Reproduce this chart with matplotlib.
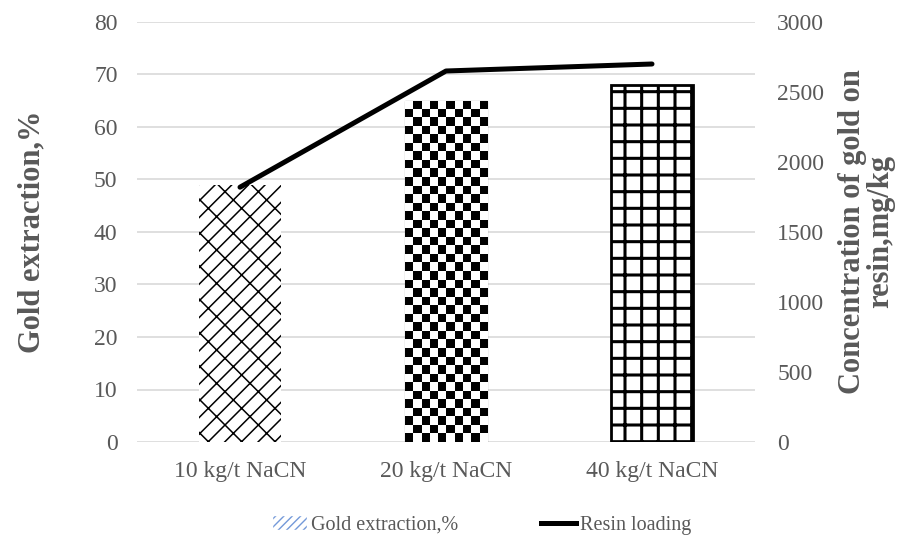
import numpy as np
import matplotlib
matplotlib.use("Agg")
import matplotlib.pyplot as plt
from matplotlib.patches import Patch
from matplotlib.lines import Line2D

categories = ["10 kg/t NaCN", "20 kg/t NaCN", "40 kg/t NaCN"]
gold_extraction = [49, 65, 68]          # %
resin_loading = [1820, 2650, 2700]      # mg/kg

plt.rcParams["font.family"] = ["Liberation Serif", "DejaVu Serif"]
plt.rcParams["hatch.color"] = "black"
GRAY = "#595959"

fig = plt.figure(figsize=(9, 5.42), dpi=100)
ax = fig.add_axes([137 / 900, 1 - 442 / 542, 618 / 900, 420 / 542])
ax2 = ax.twinx()

x = np.arange(len(categories))
bars = ax.bar(x, gold_extraction, width=0.4, facecolor="white",
              edgecolor="black", linewidth=0.8, zorder=2)

# bar 1: diagonal brick-like pattern, no outline
bars[0].set_hatch("//\\")
bars[0].set_hatch_linewidth(1.1)
bars[0].set_linewidth(0)
# bar 3: square grid
bars[2].set_hatch("+")
bars[2].set_hatch_linewidth(2.2)
bars[2].set_linewidth(2.0)

ax.set_xlim(-0.5, len(categories) - 0.5)
ax.set_ylim(0, 80)

# bar 2: checkerboard fill clipped to the bar
b = bars[1]
bx, bw, bh = b.get_x(), b.get_width(), b.get_height()
ncols = 10
nrows = int(round(bh / 80 * 420 / 8.5))
board = (np.add.outer(np.arange(nrows), np.arange(ncols)) % 2).astype(float)
img = ax.imshow(board, cmap="gray", extent=[bx, bx + bw, 0, bh],
                aspect="auto", interpolation="nearest", origin="lower",
                zorder=2.5)
img.set_clip_path(b)
ax.set_xlim(-0.5, len(categories) - 0.5)
ax.set_ylim(0, 80)

ax2.plot(x, resin_loading, color="black", linewidth=3.6,
         solid_capstyle="round", solid_joinstyle="round", zorder=3)
ax2.set_ylim(0, 3000)
ax2.set_yticks(np.arange(0, 3001, 500))

ax.set_yticks(np.arange(0, 81, 10))
ax.yaxis.grid(True, color="#d9d9d9", linewidth=1.2, zorder=0)
ax.set_axisbelow(True)
ax.set_xticks(x)
ax.set_xticklabels(categories)

for a in (ax, ax2):
    for s in a.spines.values():
        s.set_visible(False)
    a.tick_params(length=0, labelsize=17, colors=GRAY)
ax.tick_params(axis="y", pad=14)
ax.tick_params(axis="x", pad=14)
ax2.tick_params(axis="y", pad=16)

ax.set_ylabel("Gold extraction,%", fontsize=22, fontweight="bold",
              color=GRAY, labelpad=34)
ax2.set_ylabel("Concentration of gold on\nresin,mg/kg", fontsize=22,
               fontweight="bold", color=GRAY, labelpad=10, linespacing=0.95)

handles = [Patch(facecolor="white", edgecolor="white", hatch="////",
                 label="Gold extraction,%"),
           Line2D([0], [0], color="black", linewidth=3.6,
                  label="Resin loading")]
leg = fig.legend(handles=handles, loc="center",
                 bbox_to_anchor=(0.535, 1 - 525 / 542),
                 ncol=2, frameon=False, fontsize=14.5, columnspacing=4.1,
                 handlelength=1.75, handletextpad=0.2)
for t in leg.get_texts():
    t.set_color(GRAY)
leg.legend_handles[0].set_hatch_linewidth(1.0)
leg.legend_handles[0]._hatch_color = (0.45, 0.6, 0.85, 1.0)

fig.savefig("out.png", dpi=100)
